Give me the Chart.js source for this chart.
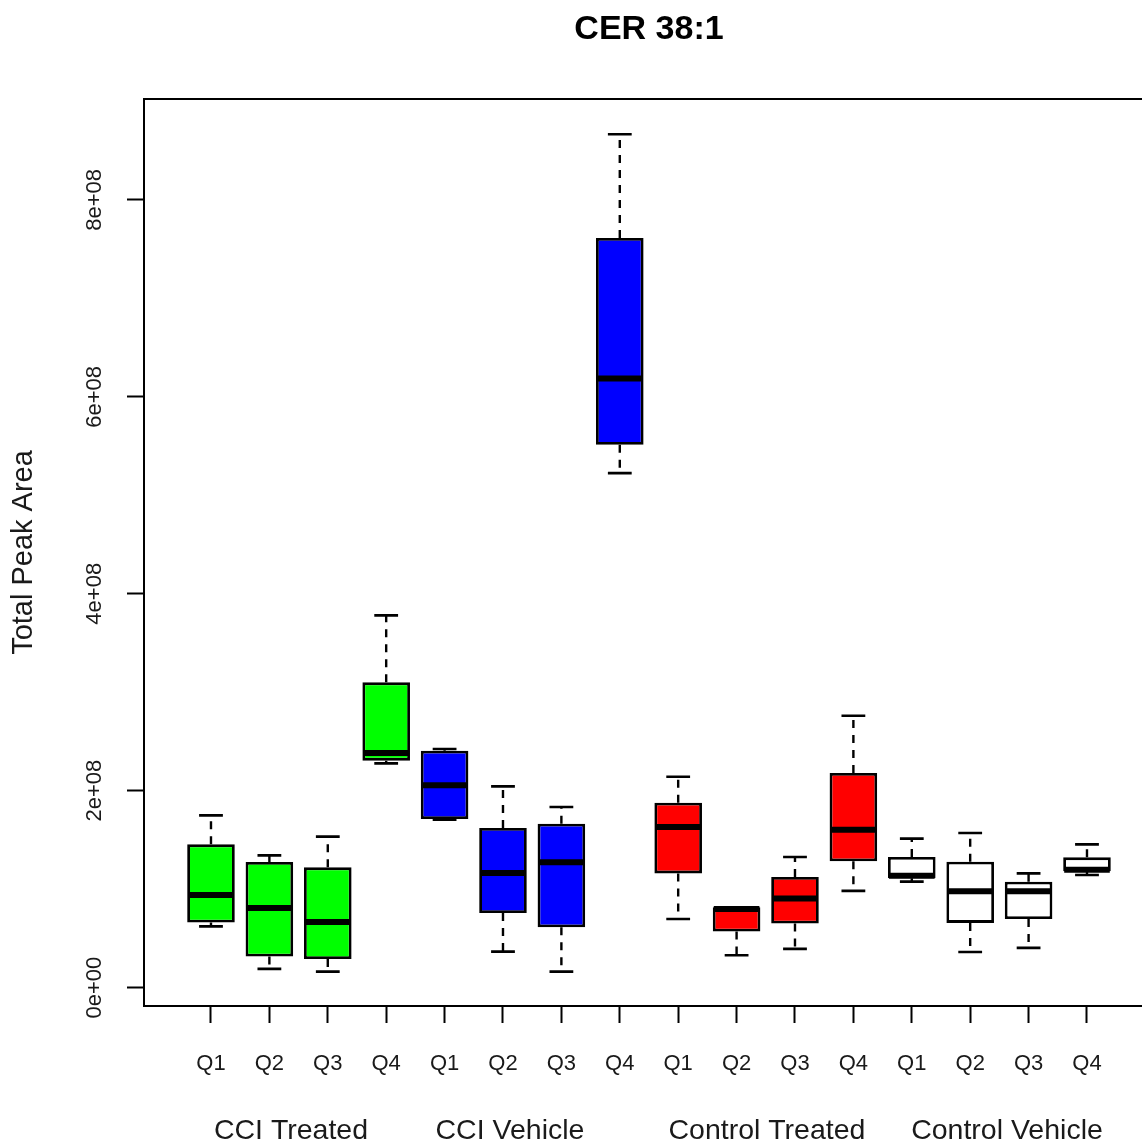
<!DOCTYPE html>
<html>
<head>
<meta charset="utf-8">
<script src="https://cdn.jsdelivr.net/npm/chart.js@4.4.1/dist/chart.umd.min.js"></script>
<style>
html,body{margin:0;padding:0;background:#ffffff;overflow:hidden;}
#wrap{width:1142px;height:1146px;position:relative;}
#c{display:block;width:1142px;height:1146px;}
</style>
</head>
<body>
<div id="wrap"><canvas id="c" width="1142" height="1146"></canvas></div>
<script>
// ---------- data ----------
const chartTitle = 'CER 38:1';
const yAxisTitle = 'Total Peak Area';
const boxLabels = ['Q1','Q2','Q3','Q4','Q1','Q2','Q3','Q4','Q1','Q2','Q3','Q4','Q1','Q2','Q3','Q4'];
const groupLabels = ['CCI Treated','CCI Vehicle','Control Treated','Control Vehicle'];
const boxColors = ['#00FF00','#00FF00','#00FF00','#00FF00',
                   '#0000FF','#0000FF','#0000FF','#0000FF',
                   '#FF0000','#FF0000','#FF0000','#FF0000',
                   '#FFFFFF','#FFFFFF','#FFFFFF','#FFFFFF'];
const minVals = [0.622e8,0.190e8,0.162e8,2.277e8, 1.706e8,0.365e8,0.162e8,5.225e8,
                 0.697e8,0.328e8,0.393e8,0.982e8, 1.076e8,0.362e8,0.403e8,1.144e8];
const q1Vals  = [0.660e8,0.315e8,0.291e8,2.305e8, 1.713e8,0.758e8,0.612e8,5.513e8,
                 1.160e8,0.569e8,0.650e8,1.282e8, 1.110e8,0.657e8,0.697e8,1.181e8];
const medVals = [0.941e8,0.809e8,0.667e8,2.383e8, 2.054e8,1.164e8,1.272e8,6.186e8,
                 1.631e8,0.797e8,0.904e8,1.604e8, 1.137e8,0.978e8,0.978e8,1.198e8];
const q3Vals  = [1.455e8,1.276e8,1.221e8,3.100e8, 2.406e8,1.621e8,1.665e8,7.614e8,
                 1.878e8,0.815e8,1.124e8,2.180e8, 1.327e8,1.279e8,1.076e8,1.323e8];
const maxVals = [1.749e8,1.343e8,1.533e8,3.780e8, 2.423e8,2.044e8,1.834e8,8.667e8,
                 2.142e8,0.815e8,1.327e8,2.761e8, 1.513e8,1.570e8,1.160e8,1.455e8];
const yTickValues = [0, 2e8, 4e8, 6e8, 8e8];
const yTickLabels = ['0e+00','2e+08','4e+08','6e+08','8e+08'];

// ---------- chart ----------
const FONT = "'Liberation Sans', Arial, Helvetica, sans-serif";
const TEXT = '#1a1a1a';
const positions = boxLabels.map((_, i) => i + 1);

const boxExtras = {
  id: 'boxExtras',
  beforeDatasetsDraw(chart, args, opts) {
    const ctx = chart.ctx, ys = chart.scales.y;
    const meta = chart.getDatasetMeta(0);
    ctx.save();
    ctx.strokeStyle = '#000';
    meta.data.forEach((el, i) => {
      const x = el.x, w = el.width;
      const pMin = ys.getPixelForValue(minVals[i]);
      const pMax = ys.getPixelForValue(maxVals[i]);
      const pQ1 = ys.getPixelForValue(q1Vals[i]);
      const pQ3 = ys.getPixelForValue(q3Vals[i]);
      ctx.lineWidth = 2.4;
      ctx.setLineDash([8, 7]);
      ctx.beginPath();
      ctx.moveTo(x, pQ3); ctx.lineTo(x, pMax);
      ctx.moveTo(x, pQ1); ctx.lineTo(x, pMin);
      ctx.stroke();
      ctx.setLineDash([]);
      ctx.lineWidth = 2.6;
      ctx.beginPath();
      ctx.moveTo(x - w / 4, pMax); ctx.lineTo(x + w / 4, pMax);
      ctx.moveTo(x - w / 4, pMin); ctx.lineTo(x + w / 4, pMin);
      ctx.stroke();
    });
    ctx.restore();
  },
  afterDatasetsDraw(chart) {
    const ctx = chart.ctx, ys = chart.scales.y;
    const meta = chart.getDatasetMeta(0);
    ctx.save();
    ctx.strokeStyle = '#000';
    ctx.lineWidth = 6;
    ctx.lineCap = 'butt';
    meta.data.forEach((el, i) => {
      const p = ys.getPixelForValue(medVals[i]);
      ctx.beginPath();
      ctx.moveTo(el.x - el.width / 2 + 1, p);
      ctx.lineTo(el.x + el.width / 2 - 1, p);
      ctx.stroke();
    });
    ctx.restore();
  },
  afterDraw(chart, args, opts) {
    const ctx = chart.ctx, xs = chart.scales.x, a = chart.chartArea;
    ctx.save();
    // top frame line
    ctx.strokeStyle = '#000';
    ctx.lineWidth = 2;
    ctx.beginPath();
    ctx.moveTo(a.left - 1, a.top); ctx.lineTo(a.right, a.top);
    ctx.stroke();
    // title
    ctx.fillStyle = '#000';
    ctx.textAlign = 'center';
    ctx.textBaseline = 'middle';
    ctx.font = 'bold 34px ' + FONT;
    ctx.fillText(chartTitle, xs.getPixelForValue(opts.titleAt), opts.titleY);
    // group labels
    ctx.fillStyle = TEXT;
    ctx.font = '28.5px ' + FONT;
    groupLabels.forEach((g, i) => {
      ctx.fillText(g, xs.getPixelForValue(opts.groupAt[i]), opts.groupY);
    });
    ctx.restore();
  }
};

new Chart(document.getElementById('c'), {
  type: 'bar',
  data: {
    datasets: [{
      label: 'boxes',
      data: positions.map((x, i) => ({ x: x, y: [q1Vals[i], q3Vals[i]] })),
      backgroundColor: boxColors,
      borderColor: '#000000',
      borderWidth: 2.8,
      borderSkipped: false,
      barPercentage: 0.815,
      categoryPercentage: 1.0
    }]
  },
  options: {
    responsive: false,
    maintainAspectRatio: false,
    animation: false,
    devicePixelRatio: 1,
    layout: { padding: { top: 99, left: 0, right: 0, bottom: 0 } },
    plugins: {
      legend: { display: false },
      title: { display: false },
      tooltip: { enabled: false },
      boxExtras: { titleAt: 8.5, titleY: 30, groupAt: [2.37, 6.12, 10.52, 14.63], groupY: 1131 }
    },
    scales: {
      x: {
        type: 'linear',
        offset: false,
        min: -0.147,
        max: 16.942,
        afterBuildTicks: (s) => { s.ticks = positions.map(v => ({ value: v })); },
        afterFit: (s) => { s.height = 140; },
        grid: { offset: false, drawOnChartArea: false, drawTicks: true, tickLength: 17, tickWidth: 2, tickColor: '#000' },
        border: { display: true, color: '#000', width: 2 },
        ticks: {
          autoSkip: false, maxRotation: 0, minRotation: 0,
          padding: 28,
          color: TEXT,
          font: { family: FONT, size: 22 },
          callback: (v) => boxLabels[v - 1]
        }
      },
      y: {
        type: 'linear',
        min: -0.187e8,
        max: 9.025e8,
        afterBuildTicks: (s) => { s.ticks = yTickValues.map(v => ({ value: v })); },
        afterFit: (s) => { s.width = 144; },
        grid: { drawOnChartArea: false, drawTicks: true, tickLength: 17, tickWidth: 2, tickColor: '#000' },
        border: { display: true, color: '#000', width: 2 },
        title: {
          display: true, text: yAxisTitle, color: TEXT,
          font: { family: FONT, size: 29 }, padding: { top: 7, bottom: 0 }
        },
        ticks: {
          autoSkip: false, minRotation: 90, maxRotation: 90,
          crossAlign: 'center',
          padding: 1,
          color: TEXT,
          font: { family: FONT, size: 22 },
          callback: (v) => yTickLabels[yTickValues.indexOf(v)]
        }
      }
    }
  },
  plugins: [boxExtras]
});
</script>
</body>
</html>
